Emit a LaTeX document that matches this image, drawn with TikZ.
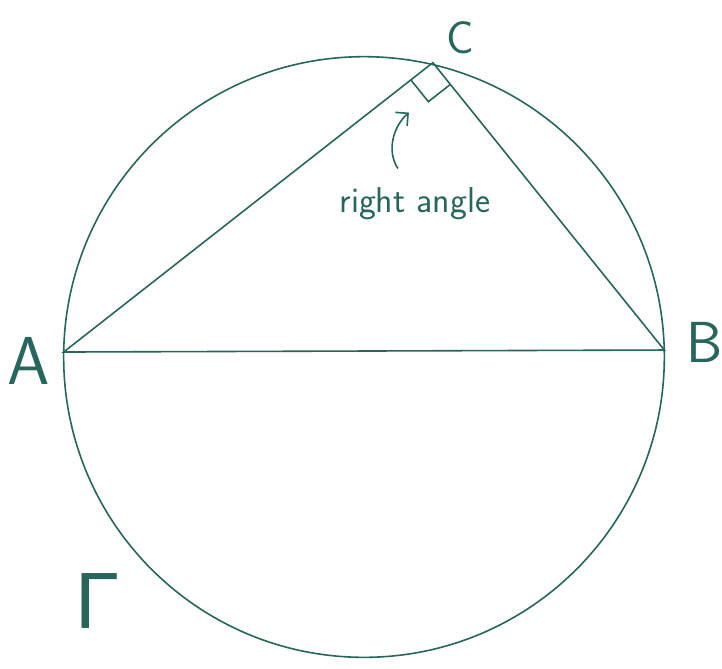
\documentclass[tikz,border=0pt]{standalone}
\usepackage{amsmath,amssymb}
\usepackage{fontspec}
\newfontfamily\greekfont{Liberation Sans}
\usepackage[dvipsnames]{xcolor}
\usepackage{tikz}
\usetikzlibrary{arrows.meta,calc}
\definecolor{pen}{RGB}{38,102,92}

\begin{document}
\begin{tikzpicture}[x=1pt,y=-1pt,
      line width=1.6pt,
      every path/.style={draw=pen},
      lbl/.style={text=pen,inner sep=0pt,font=\sffamily},
      ]
      \useasboundingbox (0,0) rectangle (722,668);
      \fill[white] (0,0) rectangle (722,668);
      % circle and points on it
      \coordinate (O) at (364,357);
      \coordinate (A) at (63,352);
      \coordinate (B) at (665,350);
      \coordinate (C) at (433,62);
      \draw (O) circle[radius=301];
      % triangle
      \draw (A) -- (B) -- (C) -- cycle;
      % right angle mark
      \coordinate (ca) at ($(C)!28pt!(A)$);
      \coordinate (cb) at ($(C)!28pt!(B)$);
      \draw (ca) -- ($(ca)+(cb)-(C)$) -- (cb);
      % labels
      \node[lbl,font=\sffamily\fontsize{68}{68}\selectfont] (labA) at (28,361) {A};
      \node[lbl,font=\sffamily\fontsize{58}{58}\selectfont] (labB) at (705,342) {B};
      \node[lbl,font=\sffamily\fontsize{46}{46}\selectfont] (labC) at (461,37) {C};
      \node[lbl,font=\greekfont\fontsize{80}{80}\selectfont] (labG) at (97,602) {Γ};
      \node[lbl,font=\sffamily\fontsize{36}{36}\selectfont] (note) at (415,203) {right angle};
      \coordinate (tip) at (409,112);
      \draw[-{Straight Barb[length=9pt]}] (398,168) .. controls (386,150) and (394,125) .. (tip);
\end{tikzpicture}
\end{document}
